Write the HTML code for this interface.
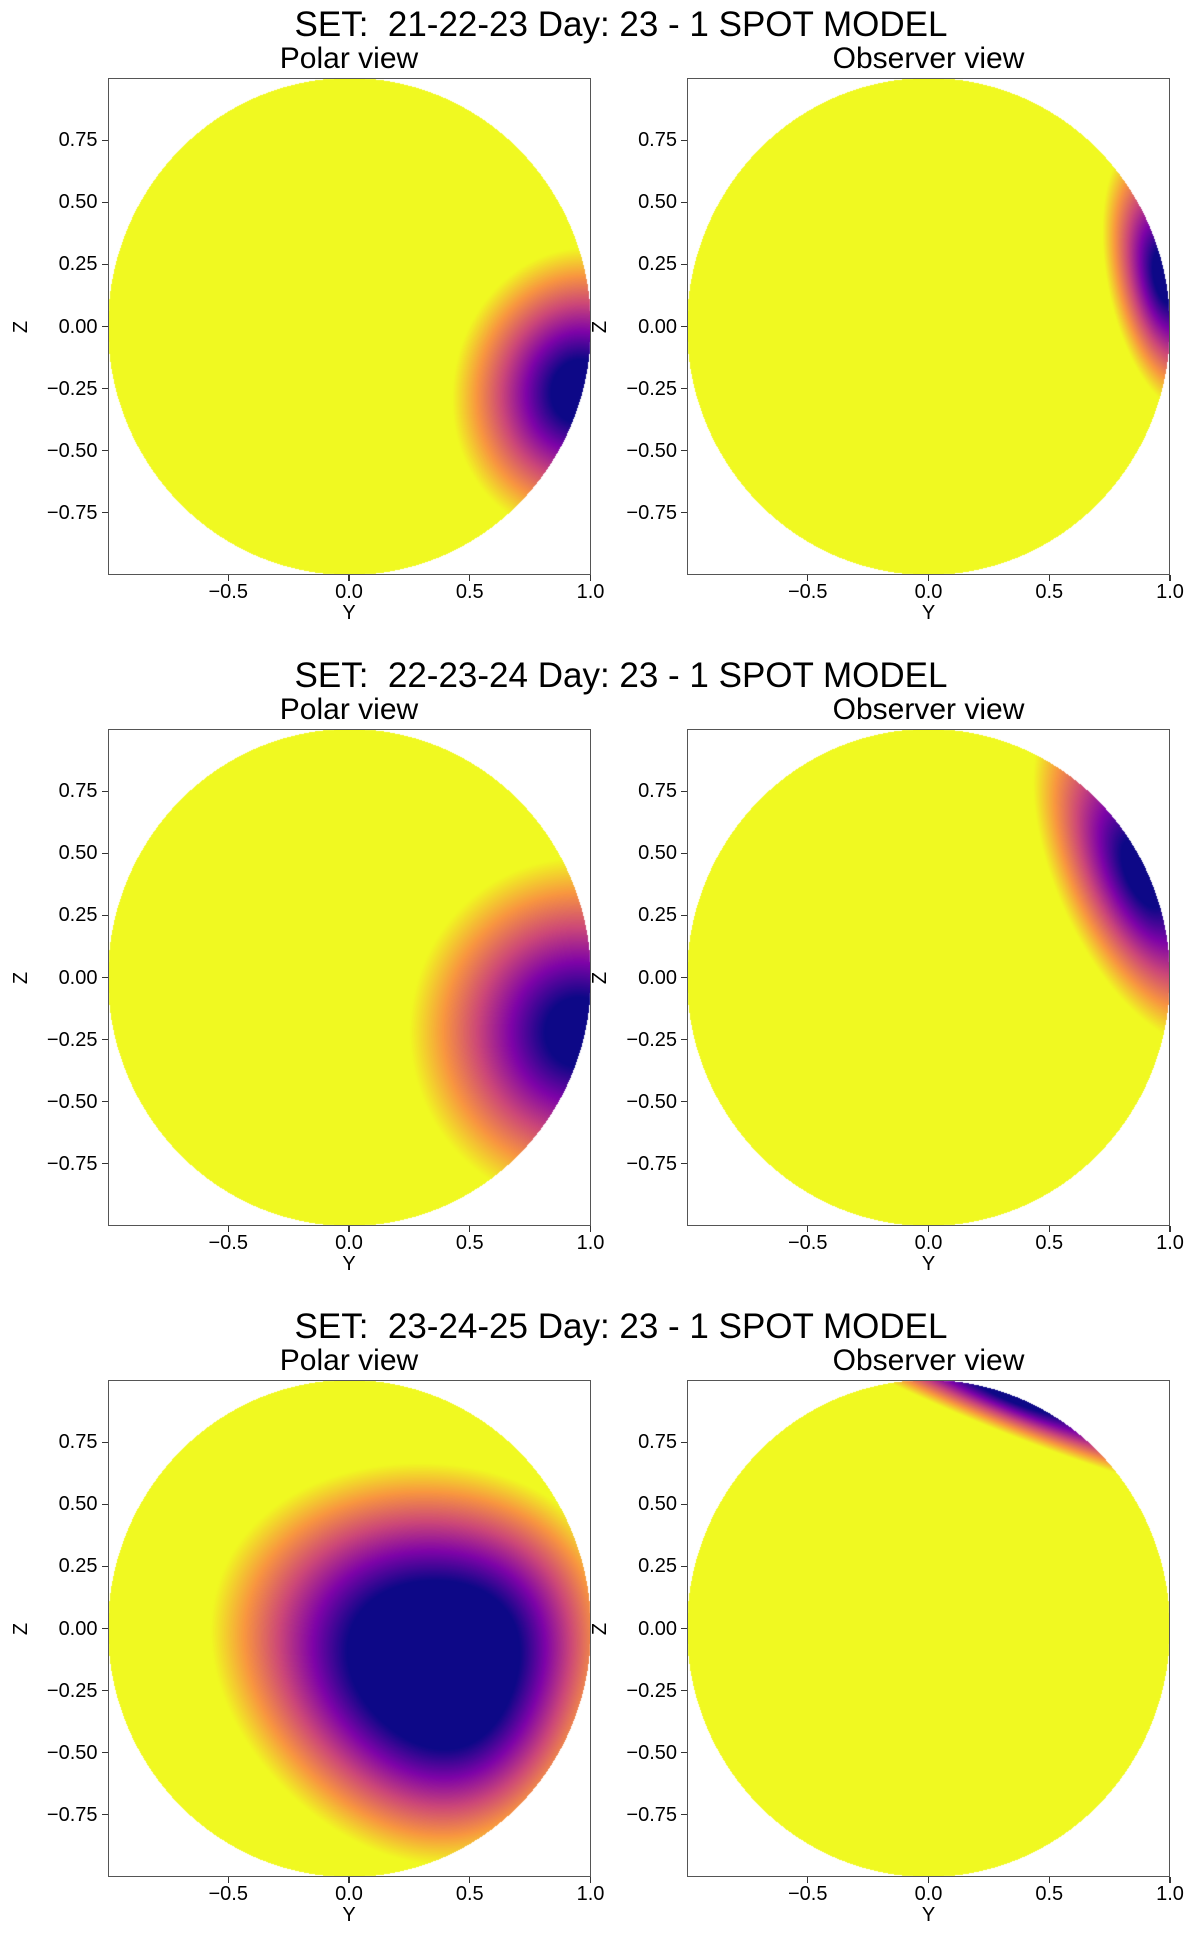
<!DOCTYPE html>
<html><head><meta charset="utf-8">
<style>
html,body{margin:0;padding:0;background:#fff;}
body{width:1200px;height:1947px;position:relative;overflow:hidden;font-family:"Liberation Sans","DejaVu Sans",sans-serif;color:#000;}
.t{position:absolute;white-space:pre;}
canvas{position:absolute;}
.box{position:absolute;border:1.3px solid #555;box-sizing:border-box;}
</style></head>
<body>
<div id="root"></div>
<script>
// Data arrays (per panel: row-major, polar then observer)
const rowTitles = ["SET:  21-22-23 Day: 23 - 1 SPOT MODEL","SET:  22-23-24 Day: 23 - 1 SPOT MODEL","SET:  23-24-25 Day: 23 - 1 SPOT MODEL"];
const panelTitles = ["Polar view","Observer view"];
const spotY = [0.95, 0.98, 0.95, 0.89, 0.40, 0.36];
const spotZ = [-0.26, 0.20, -0.22, 0.42, -0.15, 0.93];
const fadeIn = [0.52, 0.24, 0.70, 0.36, 1.00, 0.15];
const fadeOut = [0.52, 0.24, 0.70, 0.36, 0.70, 0.15];
const fadeTan = [0.58, 0.55, 0.70, 0.75, 0.80, 1.10];
const coreFrac = [0.22, 0.2, 0.2, 0.2, 0.42, 0.15];
const yTicks = [0.75, 0.50, 0.25, 0.00, -0.25, -0.50, -0.75];
const xTicks = [-0.5, 0.0, 0.5, 1.0];

const root = document.getElementById('root');
const AX_W = 483, AX_H = 497, ROW_DY = 651, TOP0 = 78;
const colLeft = [107.5, 687];
const plasma = [[13,8,135],[126,3,168],[204,71,120],[248,149,64],[240,249,33]];
function cmap(t){t=Math.max(0,Math.min(1,t));const s=t*4,i=Math.min(3,Math.floor(s)),f=s-i;const a=plasma[i],b=plasma[i+1];return [a[0]+(b[0]-a[0])*f,a[1]+(b[1]-a[1])*f,a[2]+(b[2]-a[2])*f];}
function mk(tag,name,css,txt){const e=document.createElement(tag);e.style.cssText=css;if(txt!==undefined)e.textContent=txt;


root.appendChild(e);return e;}

for(let r=0;r<3;r++){
  const top=TOP0+r*ROW_DY;
  const tt=mk('div','figure-title-'+(r+1),`left:0;width:1242px;text-align:center;top:${top-73}px;font-size:35px;line-height:40px;`,rowTitles[r]);
  tt.className='t';
  for(let c=0;c<2;c++){
    const p=r*2+c, left=colLeft[c];
    const xs=v=>left+(v+1)/2*AX_W, ys=v=>top+(1-(v+1)/2)*AX_H;
    const st=mk('div','panel-title-'+(r+1)+'-'+(c+1),`left:${left}px;width:${AX_W}px;text-align:center;top:${top-36}px;font-size:30px;line-height:34px;`,panelTitles[c]);st.className='t';
    const cv=document.createElement('canvas');cv.width=AX_W;cv.height=AX_H;cv.style.left=left+'px';cv.style.top=top+'px';
    
    
    root.appendChild(cv);
    const ctx=cv.getContext('2d'),img=ctx.createImageData(AX_W,AX_H),d=img.data;
    const cy=spotY[p],cz=spotZ[p],n=Math.hypot(cy,cz)||1,uy=cy/n,uz=cz/n;
    for(let j=0;j<AX_H;j++){for(let i=0;i<AX_W;i++){
      const y=(i+0.5)/AX_W*2-1, z=1-(j+0.5)/AX_H*2; if(y*y+z*z>1)continue;
      const dy=y-cy,dz=z-cz,a=dy*uy+dz*uz,b=-dy*uz+dz*uy;
      const dl=Math.hypot(a,b)||1e-9, w=0.5+0.5*a/dl;
      const s=fadeIn[p]+(fadeOut[p]-fadeIn[p])*w;
      const sr=Math.hypot(a/s,b/fadeTan[p]);
      const t=(sr-coreFrac[p])/(1-coreFrac[p]);
      const col=cmap(t),k=(j*AX_W+i)*4;d[k]=col[0];d[k+1]=col[1];d[k+2]=col[2];d[k+3]=255;}}
    ctx.putImageData(img,0,0);
    mk('div','axes-frame-'+(r+1)+'-'+(c+1),`left:${left}px;top:${top}px;width:${AX_W}px;height:${AX_H}px;`).className='box';
    yTicks.forEach(v=>{const y=ys(v);
      mk('div','y-tick-mark',`position:absolute;left:${left-6}px;top:${y-0.6}px;width:6px;height:1.2px;background:#333;`);
      const l=mk('div','y-tick-label',`right:${1200-left+10}px;top:${y-12}px;font-size:20px;line-height:24px;`,v<0?'\u2212'+Math.abs(v).toFixed(2):v.toFixed(2));l.className='t';});
    xTicks.forEach(v=>{const x=xs(v);
      mk('div','x-tick-mark',`position:absolute;left:${x-0.6}px;top:${top+AX_H}px;width:1.2px;height:6px;background:#333;`);
      const l=mk('div','x-tick-label',`left:${x-30}px;width:60px;text-align:center;top:${top+AX_H+5}px;font-size:20px;line-height:24px;`,v<0?'\u2212'+Math.abs(v).toFixed(1):v.toFixed(1));l.className='t';});
    const xl=mk('div','x-axis-title',`left:${xs(0)-20}px;width:40px;text-align:center;top:${top+AX_H+26}px;font-size:20px;line-height:24px;`,'Y');xl.className='t';
    const yl=mk('div','y-axis-title',`left:${left-97}px;width:20px;text-align:center;top:${ys(0)-12}px;font-size:20px;line-height:24px;transform:rotate(-90deg);`,'Z');yl.className='t';
  }
}
</script>
</body></html>
